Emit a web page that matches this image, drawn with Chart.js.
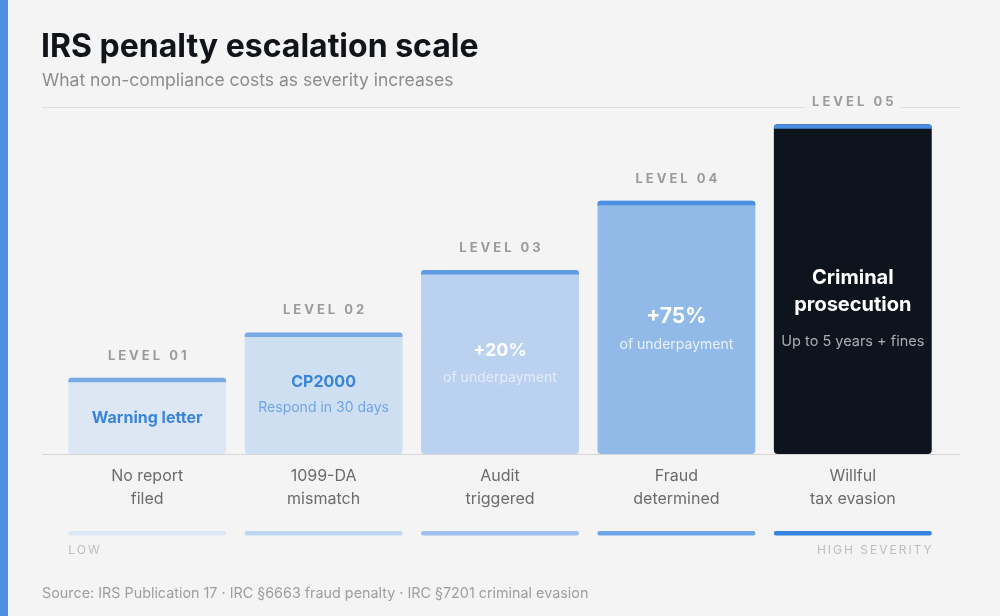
<!DOCTYPE html>
<html>
<head>
<meta charset="utf-8">
<script src="https://cdn.jsdelivr.net/npm/chart.js@4/dist/chart.umd.min.js"></script>
<style>
  html, body { margin: 0; padding: 0; background: #f4f4f4; }
  #wrap { position: relative; width: 1000px; height: 616px; }
</style>
</head>
<body>
<div id="wrap"><canvas id="penaltyChart" width="1000" height="616"></canvas></div>
<script>
// data
const categories = [['No report', 'filed'], ['1099-DA', 'mismatch'], ['Audit', 'triggered'], ['Fraud', 'determined'], ['Willful', 'tax evasion']];
const severity = [22, 35, 53, 73, 95];
const levelLabels = ['LEVEL 01', 'LEVEL 02', 'LEVEL 03', 'LEVEL 04', 'LEVEL 05'];
const headlines = [['Warning letter'], ['CP2000'], ['+20%'], ['+75%'], ['Criminal', 'prosecution']];
const sublines = ['', 'Respond in 30 days', 'of underpayment', 'of underpayment', 'Up to 5 years + fines'];

// styles
const barColors = ['#dde7f4', '#cfdff2', '#bad1ef', '#91bae8', '#0e141d'];
const capColors = ['#7aaae6', '#7aaae6', '#5f9ae4', '#4a8fe2', '#4a8fe2'];
const headColors = ['#3a85d9', '#3a85d9', '#ffffff', '#ffffff', '#ffffff'];
const subColors = ['', '#6fa4e5', 'rgba(255,255,255,0.6)', 'rgba(255,255,255,0.8)', '#a9adb3'];
const headSizes = [16, 16, 18, 21, 20];
const stripColors = ['#dce7f5', '#bfd5f1', '#9ec0ee', '#6ea5ea', '#3584e0'];
const FONT = 'Inter, "DejaVu Sans", sans-serif';

const overlay = {
    id: 'overlay',
    beforeDatasetsDraw(chart) {
        const ctx = chart.ctx;
        const area = chart.chartArea;
        ctx.save();
        ctx.strokeStyle = '#e0e0e0';
        ctx.lineWidth = 1;
        ctx.beginPath();
        ctx.moveTo(42, 107.5); ctx.lineTo(960, 107.5);
        ctx.stroke();
        ctx.strokeStyle = '#d6d6d6';
        ctx.beginPath();
        ctx.moveTo(42, area.bottom + 0.5); ctx.lineTo(960, area.bottom + 0.5);
        ctx.stroke();
        ctx.restore();
    },
    afterDatasetsDraw(chart) {
        const ctx = chart.ctx;
        const bars = chart.getDatasetMeta(0).data;
        const area = chart.chartArea;
        ctx.save();

        bars.forEach((bar, i) => {
            const left = bar.x - bar.width / 2;
            const w = bar.width;
            const top = bar.y;

            // top accent cap
            ctx.fillStyle = capColors[i];
            ctx.beginPath();
            ctx.roundRect(left, top, w, 4.5, [3, 3, 0, 0]);
            ctx.fill();

            // level label above bar
            ctx.font = 'bold 13px ' + FONT;
            ctx.letterSpacing = '3px';
            ctx.textAlign = 'center';
            ctx.textBaseline = 'middle';
            if (i === bars.length - 1) {
                const tw = ctx.measureText(levelLabels[i]).width;
                ctx.fillStyle = '#f4f4f4';
                ctx.fillRect(bar.x - tw / 2 - 6, 96, tw + 12, 16);
            }
            ctx.fillStyle = '#9b9b9b';
            ctx.fillText(levelLabels[i], bar.x + 1.5, top - 22);
            ctx.letterSpacing = '0px';

            // text inside bar
            const heads = headlines[i];
            const lineH = headSizes[i] + 7;
            const hasSub = sublines[i] !== '';
            const block = heads.length * lineH + (hasSub ? 10 + 16 : 0);
            let y = top + (area.bottom - top) / 2 - block / 2 + lineH / 2 + 2;
            if (i === 4) y = 278;
            ctx.fillStyle = headColors[i];
            ctx.font = 'bold ' + headSizes[i] + 'px ' + FONT;
            heads.forEach((h, k) => ctx.fillText(h, bar.x, y + k * lineH));
            if (hasSub) {
                ctx.font = (i === 4 ? '14.5px ' : '14px ') + FONT;
                ctx.fillStyle = subColors[i];
                const sy = y + (heads.length - 1) * lineH + lineH / 2 + 14 + (i === 4 ? 9 : 0);
                ctx.fillText(sublines[i], bar.x, sy);
            }

            // category label below baseline
            ctx.font = '16px ' + FONT;
            ctx.fillStyle = '#6b6b6b';
            categories[i].forEach((c, k) => ctx.fillText(c, bar.x, 476 + k * 23));

            // severity strip
            ctx.fillStyle = stripColors[i];
            ctx.beginPath();
            ctx.roundRect(left, 531, w, 4.5, 2);
            ctx.fill();
        });

        // low / high labels
        ctx.font = '12px ' + FONT;
        ctx.letterSpacing = '2px';
        ctx.fillStyle = '#bdbdbd';
        ctx.textAlign = 'left';
        ctx.fillText('LOW', bars[0].x - bars[0].width / 2, 550);
        ctx.textAlign = 'right';
        const last = bars[bars.length - 1];
        ctx.fillText('HIGH SEVERITY', last.x + last.width / 2 + 2, 550);
        ctx.letterSpacing = '0px';

        // title, subtitle, source, side stripe
        ctx.textAlign = 'left';
        ctx.textBaseline = 'alphabetic';
        ctx.fillStyle = '#111418';
        ctx.font = 'bold 32px ' + FONT;
        ctx.fillText('IRS penalty escalation scale', 41, 57);
        ctx.fillStyle = '#8c8c8c';
        ctx.font = '17.5px ' + FONT;
        ctx.fillText('What non-compliance costs as severity increases', 42, 86);
        ctx.fillStyle = '#9e9e9e';
        ctx.font = '14.35px ' + FONT;
        ctx.fillText('Source: IRS Publication 17 \u00b7 IRC \u00a76663 fraud penalty \u00b7 IRC \u00a77201 criminal evasion', 42, 598);
        ctx.fillStyle = '#4a8fe2';
        ctx.fillRect(0, 0, 8, 616);
        ctx.restore();
    }
};

const ctx = document.getElementById('penaltyChart').getContext('2d');
new Chart(ctx, {
    type: 'bar',
    data: {
        labels: categories,
        datasets: [{
            data: severity,
            backgroundColor: barColors,
            borderRadius: 4,
            borderSkipped: false,
            barPercentage: 0.895,
            categoryPercentage: 1
        }]
    },
    options: {
        responsive: false,
        animation: false,
        layout: { padding: { left: 59, right: 59, top: 107, bottom: 162 } },
        plugins: {
            legend: { display: false },
            tooltip: { enabled: false }
        },
        scales: {
            x: { display: false },
            y: { display: false, min: 0, max: 100 }
        }
    },
    plugins: [overlay]
});
</script>
</body>
</html>
